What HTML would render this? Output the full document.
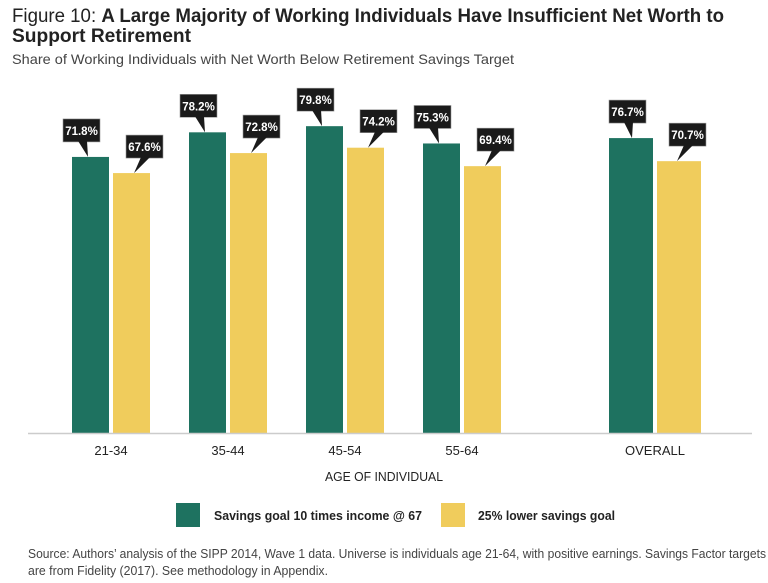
<!DOCTYPE html>
<html><head><meta charset="utf-8"><style>
body{margin:0;background:#fff;width:768px;height:583px;overflow:hidden}
svg{display:block;font-family:"Liberation Sans",sans-serif}
</style></head><body>
<svg id="chart" width="768" height="583" viewBox="0 0 768 583" xmlns="http://www.w3.org/2000/svg">
<text x="12" y="22" font-size="19" fill="#222" textLength="712" lengthAdjust="spacingAndGlyphs"><tspan font-weight="300">Figure 10: </tspan><tspan font-weight="bold">A Large Majority of Working Individuals Have Insufficient Net Worth to</tspan></text>
<text x="12" y="42" font-size="19" font-weight="bold" fill="#222" textLength="179" lengthAdjust="spacingAndGlyphs">Support Retirement</text>
<text x="12" y="64" font-size="14" fill="#444" textLength="502" lengthAdjust="spacingAndGlyphs">Share of Working Individuals with Net Worth Below Retirement Savings Target</text>
<g id="plot"></g>
<line x1="28" y1="433.5" x2="752" y2="433.5" stroke="#ccc" stroke-width="1.5"/>
<text x="384" y="481" font-size="13" fill="#222" text-anchor="middle" textLength="118" lengthAdjust="spacingAndGlyphs">AGE OF INDIVIDUAL</text>
<rect x="176" y="503" width="24" height="24" fill="#1e7260"/>
<text x="214" y="520" font-size="13" font-weight="bold" fill="#222" textLength="208" lengthAdjust="spacingAndGlyphs">Savings goal 10 times income @ 67</text>
<rect x="441" y="503" width="24" height="24" fill="#f0cc5c"/>
<text x="478" y="520" font-size="13" font-weight="bold" fill="#222" textLength="137" lengthAdjust="spacingAndGlyphs">25% lower savings goal</text>
<text x="28" y="558" font-size="12.5" fill="#444" textLength="738" lengthAdjust="spacingAndGlyphs">Source: Authors’ analysis of the SIPP 2014, Wave 1 data. Universe is individuals age 21-64, with positive earnings. Savings Factor targets</text>
<text x="28" y="575" font-size="12.5" fill="#444" textLength="300" lengthAdjust="spacingAndGlyphs">are from Fidelity (2017). See methodology in Appendix.</text>
</svg>
<script>
const categories = ["21-34","35-44","45-54","55-64","OVERALL"];
const goalValues = [71.8,78.2,79.8,75.3,76.7];
const lowerValues = [67.6,72.8,74.2,69.4,70.7];
const NS="http://www.w3.org/2000/svg";
const g=document.getElementById('plot');
const baseY=433, pxPer=3.845;
function yScale(v){return baseY-v*pxPer;}
function groupLeft(i){return i<4?72+i*117:609;}
function barW(i){return i<4?37:44;}
function mk(tag,a){const e=document.createElementNS(NS,tag);for(const k in a)e.setAttribute(k,a[k]);g.appendChild(e);return e;}
function label(v,bx,tipX,top,name){
  const bw=37,bh=23,by=top-38;
  const box=mk('rect',{x:bx,y:by,width:bw,height:bh,fill:'#1a1a1a',stroke:'#999','stroke-width':0.6});
  
  
  const p=mk('polygon',{points:`${bx+15},${by+bh-1} ${bx+24},${by+bh-1} ${tipX},${top}`,fill:'#1a1a1a'});
  
  
  const t=mk('text',{x:bx+bw/2,y:by+16,'font-size':11.5,'font-weight':'bold',fill:'#fff','text-anchor':'middle'});
  t.textContent=v.toFixed(1)+'%';
  
  
}
categories.forEach((c,i)=>{
  const x0=groupLeft(i),w=barW(i),gap=i<4?4:4;
  const x1=x0+w+gap;
  const y0=yScale(goalValues[i]),y1=yScale(lowerValues[i]);
  const b0=mk('rect',{x:x0,y:y0,width:w,height:baseY-y0,fill:'#1e7260'});
  
  
  const b1=mk('rect',{x:x1,y:y1,width:w,height:baseY-y1,fill:'#f0cc5c'});
  
  
  if(i<4){
    label(goalValues[i],x0-9,x0+16,y0,'goal-'+c);
    label(lowerValues[i],x1+13,x1+21,y1,'lower-'+c);
  } else {
    label(goalValues[i],x0,x0+23,y0,'goal-'+c);
    label(lowerValues[i],x1+12,x1+20,y1,'lower-'+c);
  }
  const t=mk('text',{x:x0+w+gap/2,y:455,'font-size':13,fill:'#222','text-anchor':'middle'});
  t.textContent=c;
  
  
});
</script>
</body></html>
